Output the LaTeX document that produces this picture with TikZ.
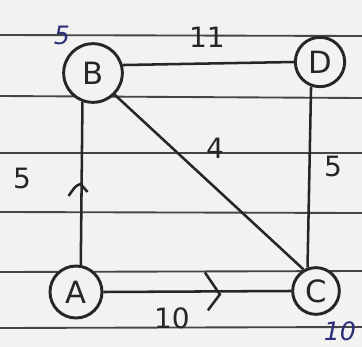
\documentclass[tikz,border=0pt]{standalone}
\usepackage{fontspec}
\setmainfont{DejaVu Sans}
\begin{document}
\begin{tikzpicture}[x=0.75pt,y=-0.75pt,
  vtx/.style={draw=ink, line width=2.2pt, circle, inner sep=0pt, font=\fontsize{23}{23}\selectfont\color{ink}},
  edge/.style={draw=ink, line width=1.9pt},
  rule/.style={draw=rulec, line width=1.4pt},
  lbl/.style={text=ink, font=\fontsize{21}{21}\selectfont, inner sep=0pt},
  blbl/.style={text=bink, font=\fontsize{19}{19}\selectfont\itshape, inner sep=0pt}]
\definecolor{ink}{HTML}{262626}
\definecolor{rulec}{HTML}{454545}
\definecolor{bink}{HTML}{2B2F7A}
\definecolor{paper}{HTML}{F4F2F0}
\fill[paper] (0,0) rectangle (362,347);
\useasboundingbox (0,0) rectangle (362,347);
% ruled lines
\draw[rule] (0,35) -- (362,36);
\draw[rule] (0,96) -- (362,98);
\draw[rule] (0,153) -- (362,153);
\draw[rule] (0,212) -- (362,213);
\draw[rule] (0,272) -- (362,271);
\draw[rule] (0,328) -- (362,327);
% nodes
\node[vtx, minimum size=44pt, fill=paper] (B) at (93,73) {B};
\node[vtx, minimum size=37pt, fill=paper] (D) at (320,62) {D};
\node[vtx, minimum size=39pt, fill=paper] (A) at (76,292) {A};
\node[vtx, minimum size=35pt, fill=paper] (C) at (316,291) {C};
% edges
\draw[edge] (A.80) -- coordinate[pos=0.46] (mab) (B.250);
\draw[edge] (B.15) -- (D.180);
\draw[edge] (B.-45) -- (C.120);
\draw[edge] (D.250) -- (C.110);
\draw[edge] (A.0) -- coordinate[pos=0.62] (mac) (C.180);
% direction marks
\draw[edge] ([shift={(-13,6)}]mab) .. controls ([shift={(-6,-4)}]mab) .. ([shift={(-1,-6)}]mab) -- ([shift={(6,2)}]mab);
\draw[edge] ([shift={(-15,-19)}]mac) -- ([shift={(0,3)}]mac) -- ([shift={(-12,19)}]mac);
% labels
\node[lbl] (l11) at (207,37) {11};
\node[lbl] (l4) at (215,148) {4};
\node[lbl] (l5a) at (22,178) {5};
\node[lbl] (l5b) at (333,166) {5};
\node[lbl] (l10) at (172,318) {10};
\node[blbl] (b5) at (62,35) {5};
\node[blbl] (b10) at (340,331) {10};
\end{tikzpicture}
\end{document}
